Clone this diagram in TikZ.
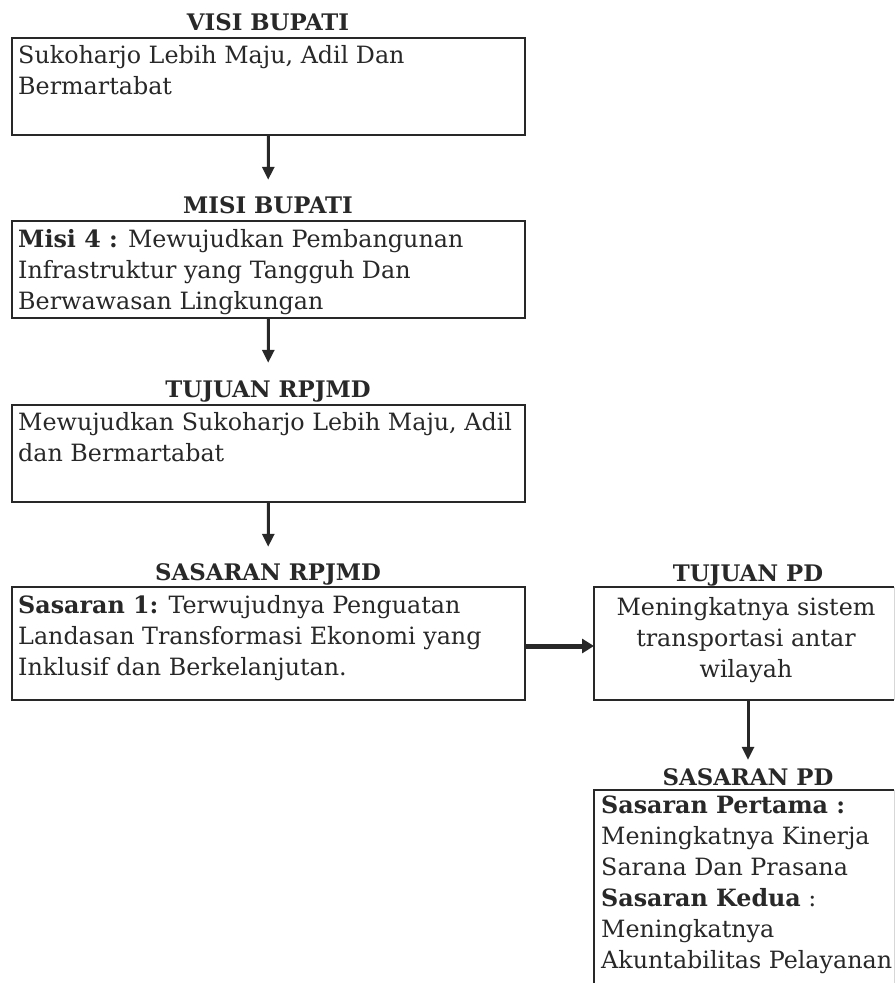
\documentclass[tikz,border=0pt]{standalone}
\usepackage{fontspec}
\setmainfont{DejaVu Serif}
\usetikzlibrary{arrows.meta}
\definecolor{ink}{RGB}{40,40,40}
\definecolor{faint}{RGB}{215,215,215}
\newcommand\txtfont{\fontsize{23.8}{31}\selectfont}
\newcommand\ttlfont{\fontsize{22.8}{25}\selectfont\bfseries}
\tikzset{
  box/.style={anchor=north west, inner sep=0pt, outer sep=0pt},
  edge/.style={draw=ink, line width=1.6pt},
  faintedge/.style={draw=faint, line width=1pt},
  ttl/.style={font=\ttlfont, text=ink, anchor=base, inner sep=0pt, text height=15pt, text depth=0pt},
  txt/.style={font=\txtfont, text=ink, anchor=north west, inner sep=0pt, align=left},
  txtc/.style={font=\txtfont, text=ink, anchor=north, inner sep=0pt, align=center},
  arr/.style={draw=ink, line width=3pt, -{Triangle[length=13pt,width=12pt]}},
  harr/.style={draw=ink, line width=5pt, -{Triangle[length=12pt,width=14pt]}},
}
\begin{document}
\begin{tikzpicture}[x=1pt,y=-1pt]
\clip (0,0) rectangle (895,983);
\fill[white] (0,0) rectangle (895,983);

% titles
\node[ttl] (t1) at (268,30) {VISI BUPATI};
\node[ttl] (t2) at (268,213) {MISI BUPATI};
\node[ttl] (t3) at (268,397) {TUJUAN RPJMD};
\node[ttl] (t4) at (268,580) {SASARAN RPJMD};
\node[ttl] (t5) at (748,581) {TUJUAN PD};
\node[ttl] (t6) at (748,785) {SASARAN PD};

% left boxes
\node[box, draw=ink, line width=1.6pt, minimum width=513pt, minimum height=97pt] (b1) at (12,38) {};
\node[box, draw=ink, line width=1.6pt, minimum width=513pt, minimum height=97pt] (b2) at (12,221) {};
\node[box, draw=ink, line width=1.6pt, minimum width=513pt, minimum height=97pt] (b3) at (12,405) {};
\node[box, draw=ink, line width=1.6pt, minimum width=513pt, minimum height=113pt] (b4) at (12,587) {};

% right boxes (right border faint)
\node[box, minimum width=300pt, minimum height=113pt] (b5) at (594,587) {};
\draw[edge] (b5.north east) -- (b5.north west) -- (b5.south west) -- (b5.south east);
\draw[faintedge] (b5.north east) -- (b5.south east);
\node[box, minimum width=300pt, minimum height=220pt] (b6) at (594,790) {};
\draw[edge] (b6.north east) -- (b6.north west) -- (b6.south west) -- (b6.south east);
\draw[faintedge] (b6.north east) -- (b6.south east);

% texts
\node[txt] (x1) at (18,41.3) {\strut Sukoharjo Lebih Maju, Adil Dan\\Bermartabat};
\node[txt] (x2) at (18,225.3) {\strut\textbf{Misi 4 :} Mewujudkan Pembangunan\\Infrastruktur yang Tangguh Dan\\Berwawasan Lingkungan};
\node[txt] (x3) at (18,408.3) {\strut Mewujudkan Sukoharjo Lebih Maju, Adil\\dan Bermartabat};
\node[txt] (x4) at (18,591.3) {\strut\textbf{Sasaran 1:} Terwujudnya Penguatan\\Landasan Transformasi Ekonomi yang\\Inklusif dan Berkelanjutan.};
\node[txtc] (x5) at (746,593.3) {\strut Meningkatnya sistem\\transportasi antar\\wilayah};
\node[txt] (x6) at (601,791.3) {\strut\textbf{Sasaran Pertama :}\\Meningkatnya Kinerja\\Sarana Dan Prasana\\\textbf{Sasaran Kedua} :\\Meningkatnya\\Akuntabilitas Pelayanan};

% connectors
\draw[arr, shorten >=18pt] (b1.south) -- (t2.north);
\draw[arr, shorten >=19pt] (b2.south) -- (t3.north);
\draw[arr, shorten >=18pt] (b3.south) -- (t4.north);
\draw[harr] (b4.east |- 0,646) -- (b5.west |- 0,646);
\draw[arr, shorten >=10pt] (t6.north |- b5.south) -- (t6.north);
\end{tikzpicture}
\end{document}
